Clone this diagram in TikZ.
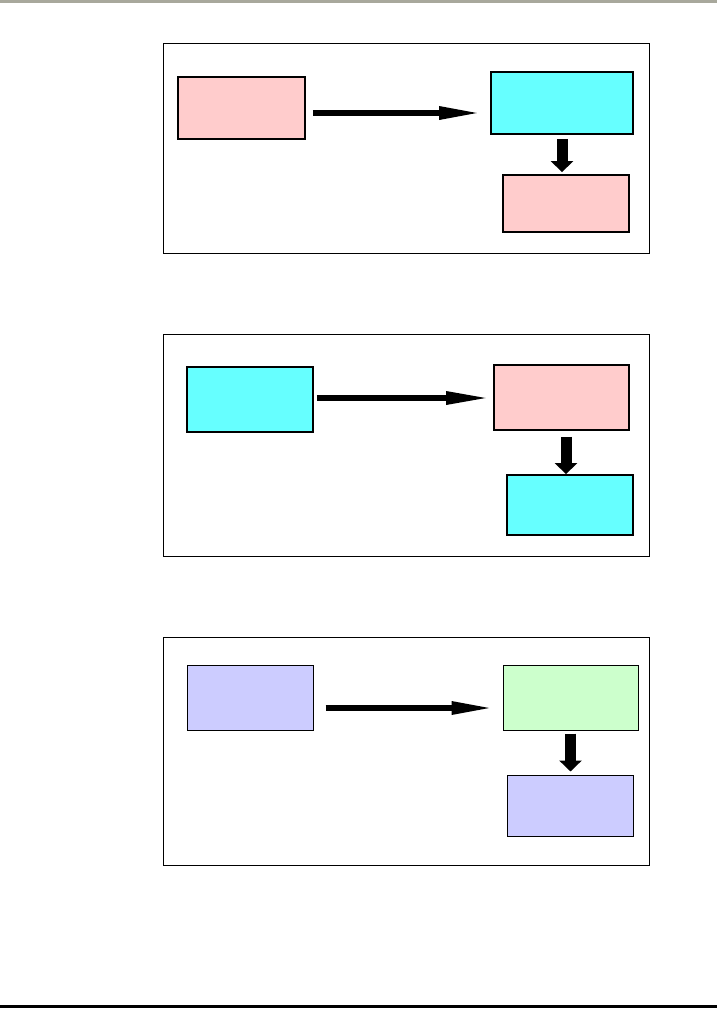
\documentclass[tikz,border=0pt]{standalone}
\usetikzlibrary{arrows.meta}
\definecolor{rose}{HTML}{FFCCCC}
\definecolor{aqua}{HTML}{66FFFF}
\definecolor{lilas}{HTML}{CCCCFF}
\definecolor{menthe}{HTML}{CCFFCC}
\definecolor{filet}{HTML}{A8A89C}
\begin{document}
\begin{tikzpicture}[x=1pt,y=-1pt]
\tikzset{boite/.style={draw, line width=1.8pt, inner sep=0pt},
  fleche/.style={line width=6pt, -{Triangle[length=43pt,width=12pt]}},
  bloc/.style={line width=11pt, -{Triangle[length=11pt,width=22pt]}}}
\useasboundingbox (0,0) rectangle (717,1009);
\fill[filet] (0,0) rectangle (717,2.5);
\fill[black] (0,1005) rectangle (717,1007.5);
\draw[line width=1pt] (163,43) rectangle (649,253);
\draw[line width=1pt] (163,334) rectangle (649,556);
\draw[line width=1pt] (163,637) rectangle (649,865);
\node[boite, fill=rose, minimum width=127pt, minimum height=62pt] (A1) at (241.5,108) {};
\node[boite, fill=aqua, minimum width=142pt, minimum height=62pt] (B1) at (562,103) {};
\node[boite, fill=rose, minimum width=126pt, minimum height=57pt] (C1) at (566,203.5) {};
\node[boite, fill=aqua, minimum width=126pt, minimum height=65pt] (A2) at (250,399.5) {};
\node[boite, fill=rose, minimum width=135pt, minimum height=65pt] (B2) at (561.5,397.5) {};
\node[boite, fill=aqua, minimum width=126pt, minimum height=60pt] (C2) at (570,505) {};
\node[boite, line width=1pt, fill=lilas, minimum width=126pt, minimum height=65pt] (A3) at (250,697.5) {};
\node[boite, line width=1pt, fill=menthe, minimum width=135pt, minimum height=65pt] (B3) at (570.5,697.5) {};
\node[boite, line width=1pt, fill=lilas, minimum width=126pt, minimum height=61pt] (C3) at (570,805.5) {};
\draw[fleche] ([xshift=7pt,yshift=-5pt]A1.east) -- ([xshift=-8pt,yshift=-10pt]B1.west);
\draw[bloc] ([yshift=-4pt]B1.south) -- ([yshift=2pt]B1.south |- C1.north);
\draw[fleche, -{Triangle[length=45pt,width=12pt]}] ([xshift=3pt,yshift=1.5pt]A2.east) -- ([xshift=-2pt,yshift=-0.5pt]B2.west);
\draw[bloc] ([xshift=4.5pt,yshift=-6pt]B2.south) -- ([xshift=4.5pt]B2.south |- C2.north);
\draw[fleche] ([xshift=12pt,yshift=-10.5pt]A3.east) -- ([xshift=-8pt,yshift=-10.5pt]B3.west);
\draw[bloc] ([yshift=-3pt]B3.south) -- ([yshift=3pt]B3.south |- C3.north);
\end{tikzpicture}
\end{document}
